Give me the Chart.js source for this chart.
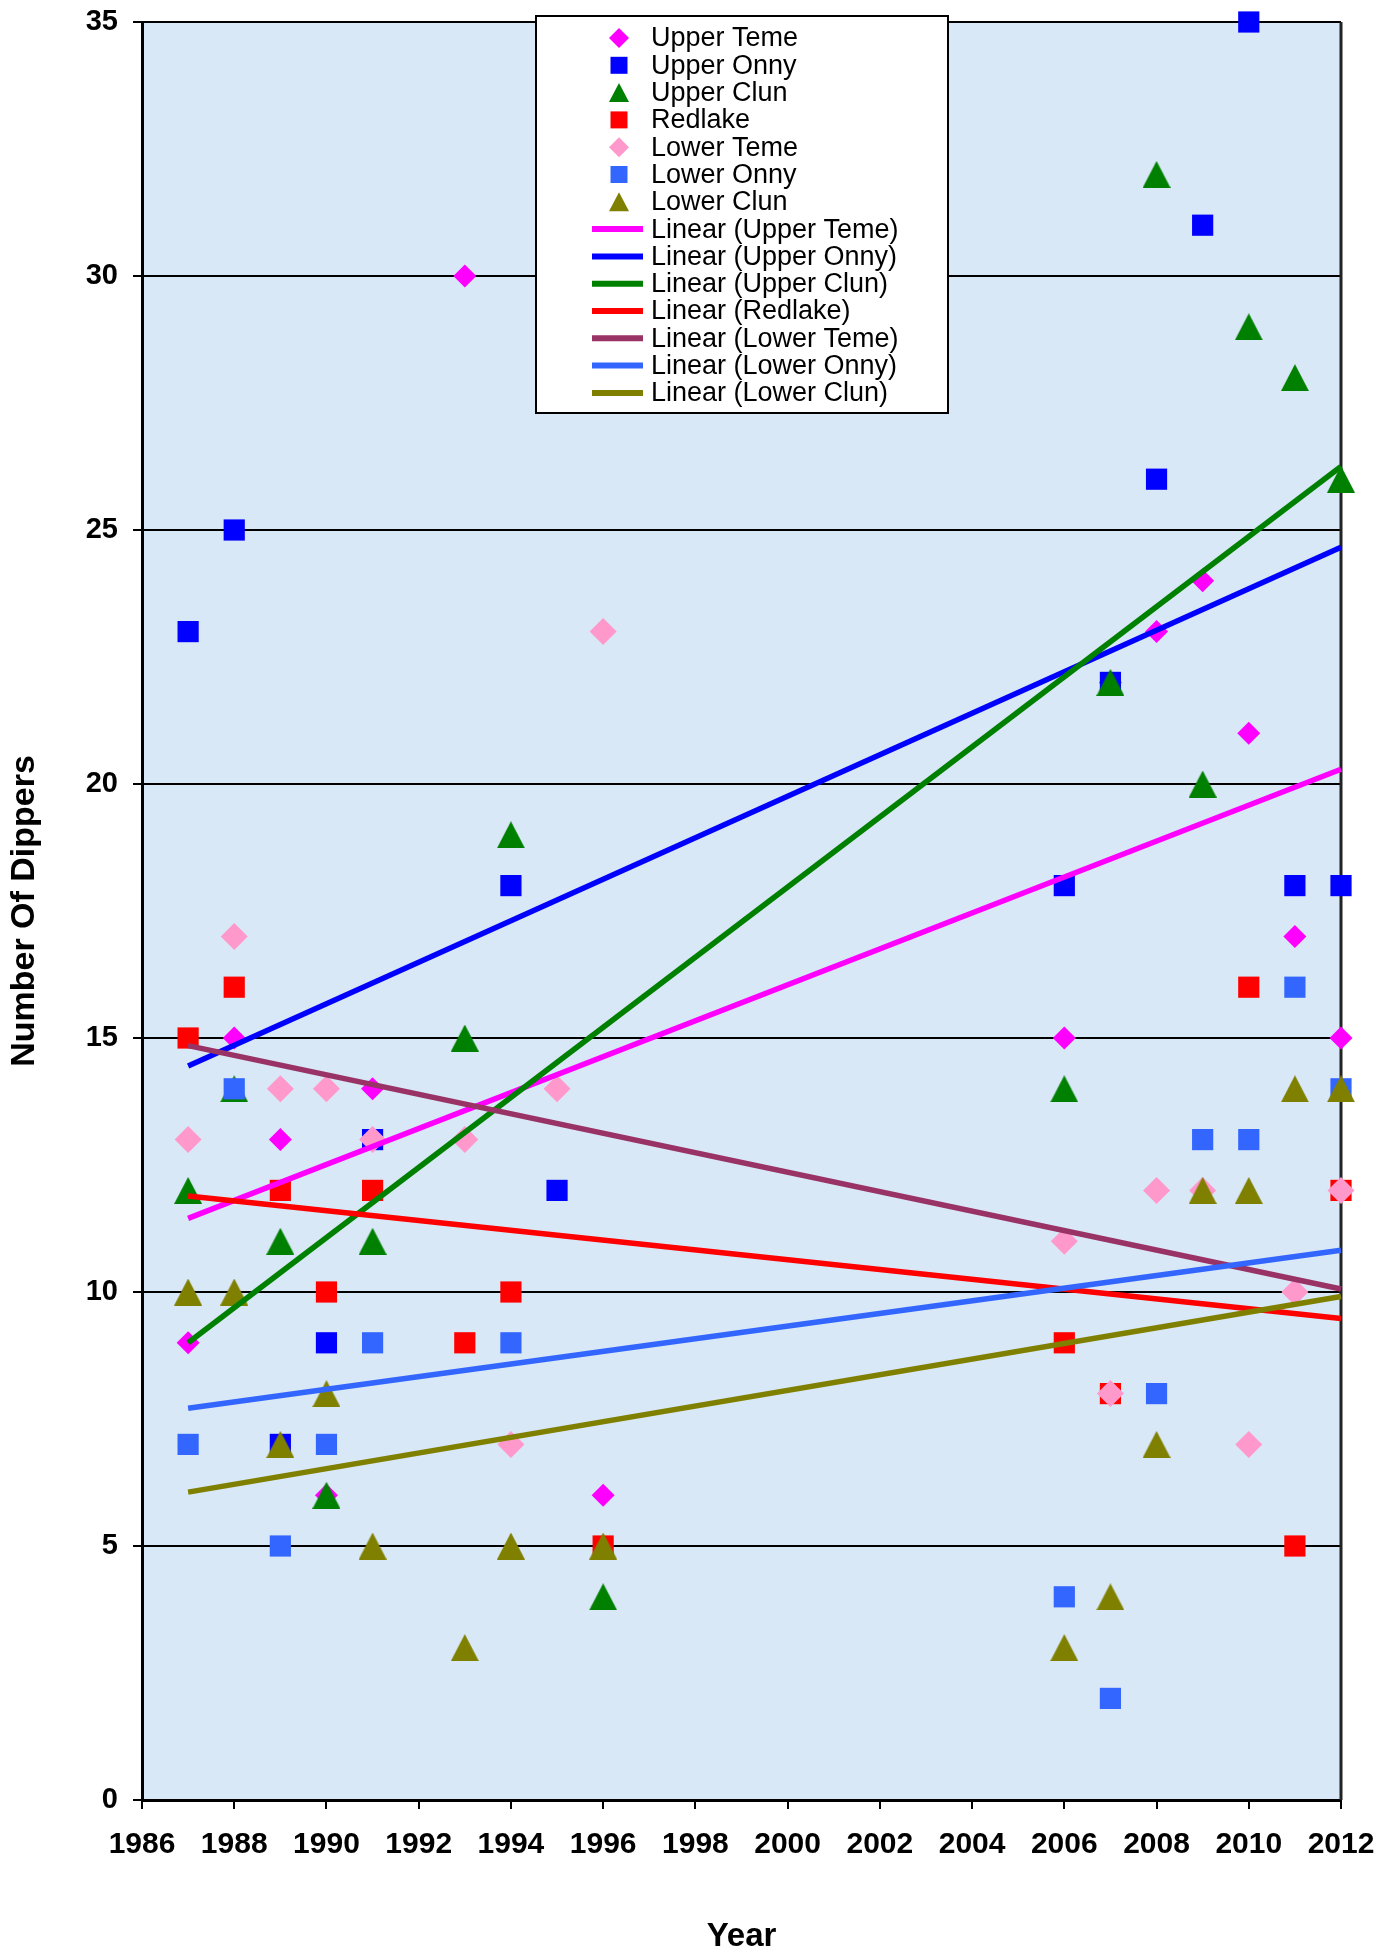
<!DOCTYPE html>
<html><head><meta charset="utf-8">
<script src="https://cdn.jsdelivr.net/npm/chart.js@4"></script>
<style>html,body{margin:0;padding:0;background:#fff;overflow:hidden}canvas{display:block}</style>
</head><body>
<canvas id="c" width="1392" height="1955" style="width:1392px;height:1955px"></canvas>
<script>
// ---- data ----
const years      = [1987,1988,1989,1990,1991,1993,1994,1995,1996,2006,2007,2008,2009,2010,2011,2012];
const upperTeme  = [9, 15,13,6, 14,30,7,   null,6,   15,22,23,24,21,17,15];
const upperOnny  = [23,25,7, 9, 13,null,18,12,  null,18,22,26,31,35,18,18];
const upperClun  = [12,14,11,6, 11,15,19,  null,4,   14,22,32,20,29,28,26];
const redlake    = [15,16,12,10,12,9, 10,  null,5,   9, 8, null,null,16,5,12];
const lowerTeme  = [13,17,14,14,13,13,7,   14,  23,  11,8, 12,12,7, 10,12];
const lowerOnny  = [7, 14,5, 7, 9, null,9, null,null,4, 2, 8, 13,13,16,14];
const lowerClun  = [10,10,7, 8, 5, 3, 5,   null,5,   3, 4, 7, 12,12,14,14];
const seriesNames = ['Upper Teme','Upper Onny','Upper Clun','Redlake','Lower Teme','Lower Onny','Lower Clun'];
const trendYears = [1987, 2012];
const trendStart = [11.45, 14.45, 9.0, 11.89, 14.85, 7.71, 6.06];
const trendEnd   = [20.29, 24.66, 26.25, 9.48, 10.06, 10.82, 9.91];
const yearTicks  = [1986,1988,1990,1992,1994,1996,1998,2000,2002,2004,2006,2008,2010,2012];
const countTicks = [0,5,10,15,20,25,30,35];

// ---- styles ----
const markerColors = ['#FF00FF','#0000FF','#008000','#FF0000','#FF99CC','#3366FF','#808000'];
const trendColors  = ['#FF00FF','#0000FF','#008000','#FF0000','#993366','#3366FF','#808000'];
const shapes = ['diamond','square','triangle','square','diamond','square','triangle'];
const FONT = "'Liberation Sans', Arial, sans-serif";

function triCanvas(color, w, h) {
  const c = document.createElement('canvas');
  c.width = w; c.height = h;
  const g = c.getContext('2d');
  g.fillStyle = color;
  g.beginPath(); g.moveTo(w/2, 0); g.lineTo(w, h); g.lineTo(0, h); g.closePath(); g.fill();
  return c;
}

const allSeries = [upperTeme, upperOnny, upperClun, redlake, lowerTeme, lowerOnny, lowerClun];
const datasets = [];
allSeries.forEach((vals, i) => {
  const pts = [];
  years.forEach((yr, k) => { if (vals[k] !== null) pts.push({x: yr, y: vals[k]}); });
  let ps, r;
  if (shapes[i] === 'diamond') { ps = 'rectRot'; r = (i === 4) ? 13.5 : 11.5; }
  else if (shapes[i] === 'square') { ps = 'rect'; r = 10.6 / Math.SQRT1_2; }
  else { ps = triCanvas(markerColors[i], 28, 27); r = 14; }
  datasets.push({
    label: seriesNames[i], data: pts, showLine: false,
    pointStyle: ps, pointRadius: r, pointHoverRadius: r,
    backgroundColor: markerColors[i], borderColor: markerColors[i], pointBorderWidth: 0,
    order: 30 - i, clip: false, _shape: shapes[i]
  });
});
seriesNames.forEach((name, i) => {
  datasets.push({
    label: 'Linear (' + name + ')',
    data: [{x: trendYears[0], y: trendStart[i]}, {x: trendYears[1], y: trendEnd[i]}],
    showLine: true, pointRadius: 0, pointHoverRadius: 0,
    borderColor: trendColors[i], backgroundColor: trendColors[i], borderWidth: 5.5,
    order: 10 - i, clip: false, _shape: 'line'
  });
});

const bgPlugin = {
  id: 'bg',
  beforeDraw(chart) {
    const {ctx, chartArea: a} = chart;
    ctx.save();
    ctx.fillStyle = '#ffffff';
    ctx.fillRect(0, 0, chart.width, chart.height);
    ctx.fillStyle = '#d9e8f7';
    ctx.fillRect(a.left, a.top, a.right - a.left, a.bottom - a.top);
    ctx.restore();
  }
};
const borderPlugin = {
  id: 'rightBorder',
  beforeDatasetsDraw(chart) {
    const {ctx, chartArea: a} = chart;
    ctx.save();
    ctx.strokeStyle = '#222';
    ctx.lineWidth = 3;
    ctx.beginPath(); ctx.moveTo(a.right, a.top); ctx.lineTo(a.right, a.bottom); ctx.stroke();
    ctx.restore();
  }
};
const legendPlugin = {
  id: 'boxLegend',
  afterDraw(chart) {
    const ctx = chart.ctx;
    const bx = 536, by = 16, bw = 412, bh = 397;
    ctx.save();
    ctx.fillStyle = '#fff';
    ctx.fillRect(bx, by, bw, bh);
    ctx.strokeStyle = '#000'; ctx.lineWidth = 2;
    ctx.strokeRect(bx, by, bw, bh);
    const y0 = 38, dy = 27.3, cx = 619;
    chart.data.datasets.forEach((ds, i) => {
      const y = y0 + i * dy;
      const col = ds.borderColor;
      ctx.fillStyle = col; ctx.strokeStyle = col;
      ctx.beginPath();
      if (ds._shape === 'diamond') {
        ctx.moveTo(cx, y - 10); ctx.lineTo(cx + 10, y); ctx.lineTo(cx, y + 10); ctx.lineTo(cx - 10, y); ctx.closePath(); ctx.fill();
      } else if (ds._shape === 'square') {
        ctx.rect(cx - 8.5, y - 8.5, 17, 17); ctx.fill();
      } else if (ds._shape === 'triangle') {
        ctx.moveTo(cx, y - 9.5); ctx.lineTo(cx + 10, y + 9.5); ctx.lineTo(cx - 10, y + 9.5); ctx.closePath(); ctx.fill();
      } else {
        ctx.lineWidth = 6;
        ctx.moveTo(592, y); ctx.lineTo(643, y); ctx.stroke();
      }
      ctx.fillStyle = '#000';
      ctx.font = '27px ' + FONT;
      ctx.textBaseline = 'middle';
      ctx.textAlign = 'left';
      ctx.fillText(ds.label, 651, y + 1);
    });
    ctx.restore();
  }
};

Chart.defaults.font.family = FONT;
Chart.defaults.color = '#000';

new Chart(document.getElementById('c'), {
  type: 'scatter',
  data: { datasets },
  options: {
    responsive: false,
    animation: false,
    events: [],
    layout: { padding: {left: 0, right: 51, top: 22, bottom: 0}, autoPadding: false },
    plugins: { legend: {display: false}, tooltip: {enabled: false} },
    scales: {
      x: {
        type: 'linear', min: 1986, max: 2012,
        afterBuildTicks: s => { s.ticks = yearTicks.map(v => ({value: v})); },
        afterFit: s => { s.height = 155; s.paddingLeft = 0; s.paddingRight = 0; },
        ticks: { callback: v => String(v), font: {size: 30, weight: 'bold'}, color: '#000', padding: 18, maxRotation: 0, minRotation: 0, autoSkip: false },
        grid: { drawOnChartArea: false, drawTicks: true, tickLength: 9, color: '#000', lineWidth: 2 },
        border: { display: true, color: '#000', width: 3 },
        title: { display: true, text: 'Year', font: {size: 33, weight: 'bold'}, color: '#000', padding: {top: 0, bottom: -2} }
      },
      y: {
        type: 'linear', min: 0, max: 35,
        afterBuildTicks: s => { s.ticks = countTicks.map(v => ({value: v})); },
        afterFit: s => { s.width = 142; s.paddingTop = 0; s.paddingBottom = 0; },
        ticks: { font: {size: 29, weight: 'bold'}, color: '#000', padding: 15 },
        grid: { color: '#000', lineWidth: 2, tickLength: 9, drawTicks: true },
        border: { display: true, color: '#000', width: 3 },
        title: { display: true, text: 'Number Of Dippers', font: {size: 34, weight: 'bold'}, color: '#000', padding: {top: 4, bottom: 0} }
      }
    }
  },
  plugins: [bgPlugin, borderPlugin, legendPlugin]
});
</script>
</body></html>
